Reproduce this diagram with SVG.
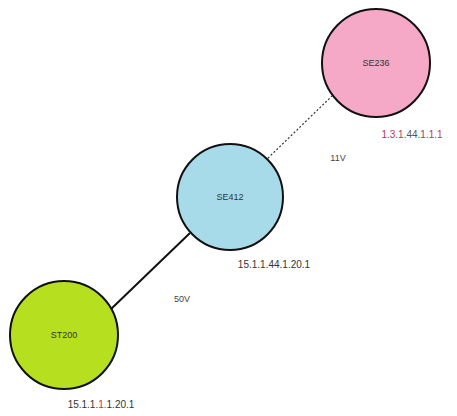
<svg xmlns="http://www.w3.org/2000/svg" width="457" height="416" viewBox="0 0 457 416">
<style>
.node{stroke:#111;stroke-width:2}
.nl{font-family:"Liberation Sans",Arial,sans-serif;font-size:9px;fill:#333;text-anchor:middle}
.lbl{font-family:"Liberation Sans",Arial,sans-serif;font-size:10px;fill:#333;text-anchor:middle}
.el{font-family:"Liberation Sans",Arial,sans-serif;font-size:9px;fill:#444;text-anchor:middle}
</style>
<rect width="457" height="416" fill="#fff"/>
<g id="connectors">
<line x1="110" y1="310" x2="190" y2="233" stroke="#111" stroke-width="2"/>
<line x1="265" y1="161" x2="333" y2="95" stroke="#333" stroke-width="1.2" stroke-dasharray="2,2"/>
<text class="el" x="182" y="302">50V</text>
<text class="el" x="338" y="161">11V</text>
</g>
<g id="n-se236">
<circle class="node" cx="376" cy="63" r="54" fill="#f6a9c6"/>
<text class="nl" x="376" y="66">SE236</text>
<text class="lbl" x="412" y="138"><tspan fill="#c03060">1.3.1.</tspan><tspan fill="#555">44.</tspan><tspan fill="#c03060">1.1.1</tspan></text>
</g>
<g id="n-se412">
<circle class="node" cx="230" cy="197" r="53" fill="#a8dbe9"/>
<text class="nl" x="230" y="200">SE412</text>
<text class="lbl" x="274" y="268">15.1.1.44.1.20.1</text>
</g>
<g id="n-st200">
<circle class="node" cx="64" cy="335" r="54" fill="#b6df1f"/>
<text class="nl" x="64" y="338">ST200</text>
<text class="lbl" x="101" y="408"><tspan>15.1.1.</tspan><tspan fill="#c03060">1.</tspan><tspan>1.20.1</tspan></text>
</g>
</svg>
